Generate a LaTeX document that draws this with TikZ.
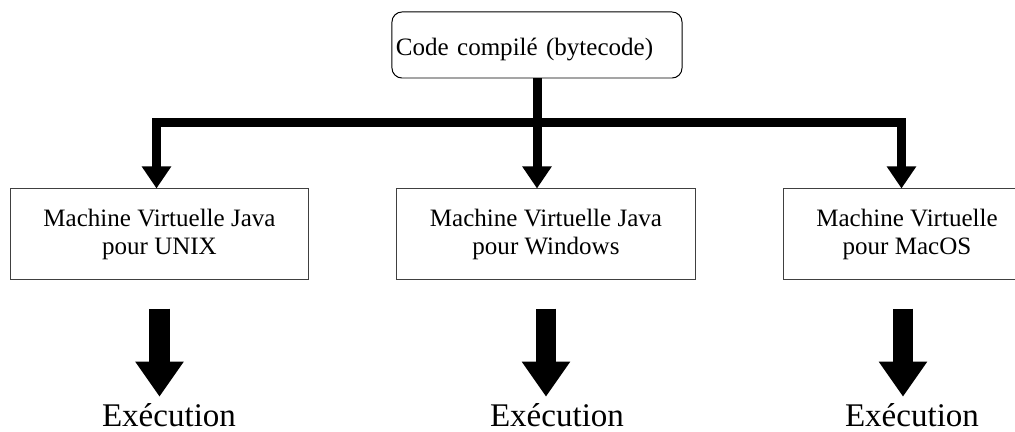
\documentclass[tikz,border=0pt]{standalone}
\usepackage{fontspec}
\setmainfont{Liberation Serif}
\usetikzlibrary{arrows.meta}
\tikzset{
  codebox/.style={draw, rounded corners=0.25cm, line width=0.7pt, minimum width=7.25cm, minimum height=1.65cm,
    text width=7.05cm, align=left, inner xsep=0.1cm, text height=0.55cm, text depth=0pt, font=\fontsize{17.8pt}{19.9pt}\selectfont},
  vmbox/.style={draw=black!75, line width=0.7pt, minimum height=2.25cm, align=center, font=\fontsize{17.8pt}{19.9pt}\selectfont},
  execlabel/.style={anchor=base, inner sep=0pt, text height=0.75cm, font=\fontsize{23.5pt}{28pt}\selectfont},
  bus/.style={line width=0.225cm, -{Triangle[width=0.7cm,length=0.55cm]}},
  bigarrow/.style={line width=0.5cm, -{Triangle[width=1.15cm,length=0.875cm]}, shorten <=0.725cm}
}
\begin{document}
\begin{tikzpicture}[x=0.025cm,y=-0.025cm]
  \useasboundingbox (0,0) rectangle (1015,432);
  % Top box
  \node[codebox] (code) at (537,45) {Code compil\'e (bytecode)};
  % Virtual machines
  \node[vmbox, minimum width=7.425cm] (vm1) at (159.5,234) {Machine Virtuelle Java\\pour UNIX};
  \node[vmbox, minimum width=7.45cm] (vm2) at (546,234) {Machine Virtuelle Java\\pour Windows};
  \node[vmbox, minimum width=6.15cm] (vm3) at (907,234) {Machine Virtuelle\\pour MacOS};
  % Execution labels
  \node[execlabel] (exec1) at (169,427) {Exécution};
  \node[execlabel] (exec2) at (557,427) {Exécution};
  \node[execlabel] (exec3) at (912,427) {Exécution};
  % Distribution lines
  \coordinate (busL) at (156.5,123);
  \coordinate (busR) at (901.5,123);
  \coordinate (busM) at (code.south |- busL);
  \draw[bus] (busM) -- (busL) -- (vm1.north -| busL);
  \draw[bus] (busM) -- (busR) -- (vm3.north -| busR);
  \draw[bus] (code.south) -- (vm2.north -| code.south);
  % Big arrows
  \draw[bigarrow] (vm1.south) -- (vm1.south |- exec1.north);
  \draw[bigarrow] (vm2.south) -- (vm2.south |- exec2.north);
  \draw[bigarrow] ([xshift=-0.1cm]vm3.south) -- ([xshift=-0.1cm]vm3.south |- exec3.north);
\end{tikzpicture}
\end{document}
